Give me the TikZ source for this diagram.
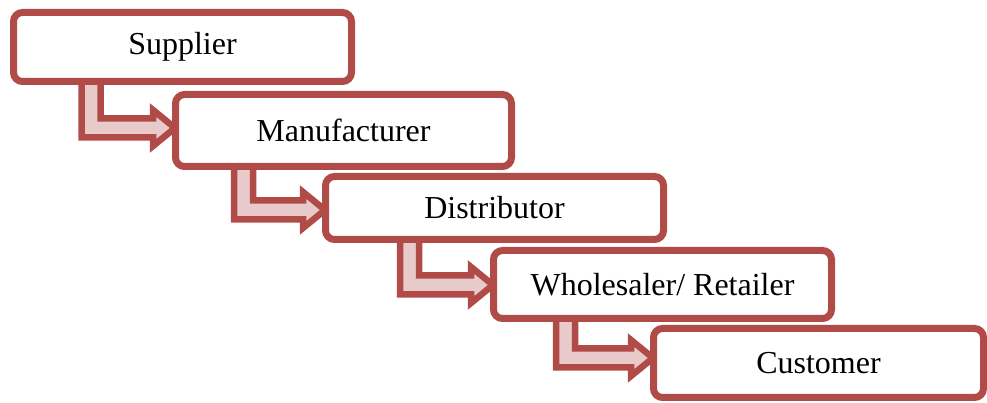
\documentclass[tikz,border=0pt]{standalone}
\usepackage{fontspec}
\setmainfont{Liberation Serif}
\usetikzlibrary{calc,shadows}
\pgfdeclarelayer{background}
\pgfsetlayers{background,main}
\definecolor{boxred}{RGB}{176,75,72}
\definecolor{arrpink}{RGB}{232,202,202}
\tikzset{
  stagebox/.style={draw=boxred, fill=white, line width=7pt, rounded corners=9pt,
    minimum height=#1, inner sep=0pt, font=\fontsize{32}{38}\selectfont,
    drop shadow={shadow xshift=2pt, shadow yshift=-2pt, opacity=0.15, fill=black}},
  bentarr/.style={draw=boxred, fill=arrpink, line width=6.5pt, line join=miter,
    drop shadow={shadow xshift=2pt, shadow yshift=-2pt, opacity=0.15, fill=black}}
}
\newcommand\bentarrow[4]{%
  \draw[bentarr] let \p1=($(#1.south west)+(#3,8)$), \p2=($(#2.west)+(3,#4)$) in
  (\x1-9.5pt,\y1) -- (\x1-9.5pt,\y2-9.5pt) -- (\x2-22pt,\y2-9.5pt) -- (\x2-22pt,\y2-18pt)
  -- (\x2,\y2) -- (\x2-22pt,\y2+18pt) -- (\x2-22pt,\y2+9.5pt) -- (\x1+9.5pt,\y2+9.5pt)
  -- (\x1+9.5pt,\y1) -- cycle;}
\begin{document}
\begin{tikzpicture}[x=1pt,y=1pt]
\useasboundingbox (0,0) rectangle (987,403);
\node[stagebox=69pt, minimum width=338pt] (sup) at (182.5,356) {Supplier};
\node[stagebox=72pt, minimum width=336pt] (man) at (343.5,272.5) {Manufacturer};
\node[stagebox=63pt, minimum width=338pt] (dis) at (494.5,195) {Distributor};
\node[stagebox=68pt, minimum width=338pt] (who) at (662.5,118.5) {Wholesaler/ Retailer};
\node[stagebox=69pt, minimum width=330pt] (cus) at (818.5,40) {Customer};
\begin{pgfonlayer}{background}
\bentarrow{sup}{man}{81}{2.5}
\bentarrow{man}{dis}{71.5}{-2}
\bentarrow{dis}{who}{87.5}{-0.5}
\bentarrow{who}{cus}{75.5}{5}
\end{pgfonlayer}
\end{tikzpicture}
\end{document}
